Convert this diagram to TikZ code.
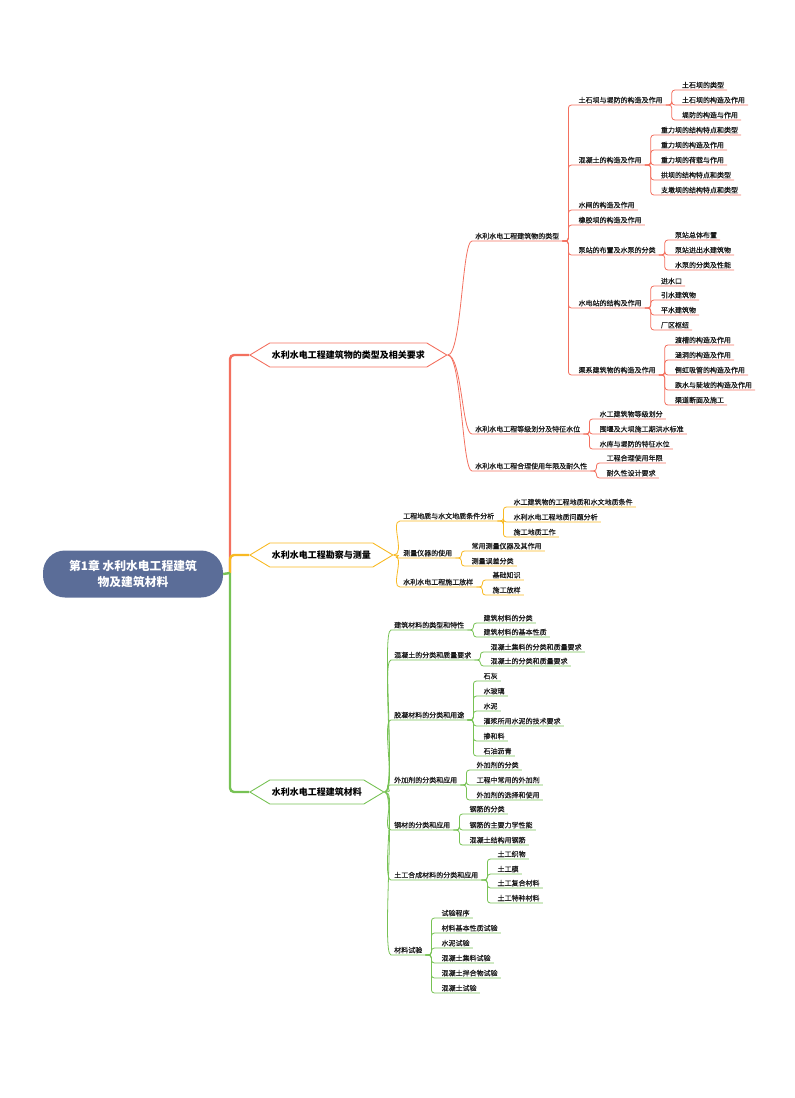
\documentclass[tikz,border=0pt]{standalone}
\usepackage{fontspec}
\setmainfont{Noto Sans CJK SC}
\newfontfamily\lfam{Noto Sans CJK SC}[FakeBold=0.35]
\usetikzlibrary{shapes.symbols}
\definecolor{cr}{HTML}{F3705F}
\definecolor{cy}{HTML}{F8B923}
\definecolor{cg}{HTML}{77C254}
\definecolor{croot}{HTML}{5B6D98}
\newcommand{\lf}{\lfam\fontsize{7}{8}\selectfont}

\begin{document}
\begin{tikzpicture}[x=1pt,y=-1pt,
  rootbox/.style={fill=croot, rounded corners=22pt, minimum width=180pt, minimum height=47pt,
    text=white, font=\fontsize{11.8}{16}\selectfont\bfseries, align=center},
  hexa/.style={signal, signal to=west and east, signal pointer angle=62, draw, line width=0.9pt,
    anchor=west, inner xsep=2pt, minimum height=24pt, font=\fontsize{9}{10}\selectfont\bfseries},
  sub/.style={anchor=south west, inner xsep=3pt, inner ysep=1.5pt, font=\lf, text=black!90},
  leaf/.style={sub, xshift=13pt},
  spine/.style={line width=2.4pt, rounded corners=4pt},
  twig/.style={line width=0.8pt},
  brk/.style={line width=0.8pt, rounded corners=3pt}]
  \useasboundingbox (0,0) rectangle (795,1098);

  \node[rootbox] (root) at (133,574) {第1章 水利水电工程建筑\\物及建筑材料};
  \coordinate (hub) at (230,573);

  \node[hexa, draw=cr] (m1) at (249,355) {水利水电工程建筑物的类型及相关要求};
  \node[hexa, draw=cy] (m2) at (249,555) {水利水电工程勘察与测量};
  \node[hexa, draw=cg] (m3) at (249,792) {水利水电工程建筑材料};

  \draw[spine, cr] (hub) |- (m1.west);
  \draw[spine, cy] (hub) |- (m2.west);
  \draw[spine, cg] (hub) |- (m3.west);
  \draw[spine, cg] (root.east) -- (hub);

  % branch 1
  \node[sub] (t1) at (472,241) {水利水电工程建筑物的类型};
  \node[sub] (t2) at (472,434) {水利水电工程等级划分及特征水位};
  \node[sub] (t3) at (472,471) {水利水电工程合理使用年限及耐久性};
  \foreach \t in {t1,t2,t3}
    \draw[twig, cr] (m1.east) .. controls +(14,0) and +(-10,0) .. (\t.south west) -- (\t.south east);

  \node[leaf] (a1) at (t1.south east |- 0,105) {土石坝与堤防的构造及作用};
  \node[leaf] (a2) at (t1.south east |- 0,165) {混凝土的构造及作用};
  \node[leaf] (a3) at (t1.south east |- 0,210) {水闸的构造及作用};
  \node[leaf] (a4) at (t1.south east |- 0,225) {橡胶坝的构造及作用};
  \node[leaf] (a5) at (t1.south east |- 0,255) {泵站的布置及水泵的分类};
  \node[leaf] (a6) at (t1.south east |- 0,308) {水电站的结构及作用};
  \node[leaf] (a7) at (t1.south east |- 0,375) {渠系建筑物的构造及作用};
  \foreach \c in {a1,a2,a3,a4,a5,a6,a7}
    \draw[brk, cr] (t1.south east) -- ++(6,0) |- (\c.south east);

  \node[leaf] (a11) at (a1.south east |- 0,90)  {土石坝的类型};
  \node[leaf] (a12) at (a1.south east |- 0,105) {土石坝的构造及作用};
  \node[leaf] (a13) at (a1.south east |- 0,120) {堤防的构造与作用};
  \foreach \c in {a11,a12,a13}
    \draw[brk, cr] (a1.south east) -- ++(6,0) |- (\c.south east);

  \node[leaf] (a21) at (a2.south east |- 0,135) {重力坝的结构特点和类型};
  \node[leaf] (a22) at (a2.south east |- 0,150) {重力坝的构造及作用};
  \node[leaf] (a23) at (a2.south east |- 0,165) {重力坝的荷载与作用};
  \node[leaf] (a24) at (a2.south east |- 0,180) {拱坝的结构特点和类型};
  \node[leaf] (a25) at (a2.south east |- 0,195) {支墩坝的结构特点和类型};
  \foreach \c in {a21,a22,a23,a24,a25}
    \draw[brk, cr] (a2.south east) -- ++(6,0) |- (\c.south east);

  \node[leaf] (a51) at (a5.south east |- 0,240) {泵站总体布置};
  \node[leaf] (a52) at (a5.south east |- 0,255) {泵站进出水建筑物};
  \node[leaf] (a53) at (a5.south east |- 0,270) {水泵的分类及性能};
  \foreach \c in {a51,a52,a53}
    \draw[brk, cr] (a5.south east) -- ++(6,0) |- (\c.south east);

  \node[leaf] (a61) at (a6.south east |- 0,286) {进水口};
  \node[leaf] (a62) at (a6.south east |- 0,300) {引水建筑物};
  \node[leaf] (a63) at (a6.south east |- 0,315) {平水建筑物};
  \node[leaf] (a64) at (a6.south east |- 0,330) {厂区枢纽};
  \foreach \c in {a61,a62,a63,a64}
    \draw[brk, cr] (a6.south east) -- ++(6,0) |- (\c.south east);

  \node[leaf] (a71) at (a7.south east |- 0,345) {渡槽的构造及作用};
  \node[leaf] (a72) at (a7.south east |- 0,360) {涵洞的构造及作用};
  \node[leaf] (a73) at (a7.south east |- 0,375) {倒虹吸管的构造及作用};
  \node[leaf] (a74) at (a7.south east |- 0,390) {跌水与陡坡的构造及作用};
  \node[leaf] (a75) at (a7.south east |- 0,405) {渠道断面及施工};
  \foreach \c in {a71,a72,a73,a74,a75}
    \draw[brk, cr] (a7.south east) -- ++(6,0) |- (\c.south east);

  \node[leaf] (b1) at (t2.south east |- 0,419) {水工建筑物等级划分};
  \node[leaf] (b2) at (t2.south east |- 0,434) {围堰及大坝施工期洪水标准};
  \node[leaf] (b3) at (t2.south east |- 0,449) {水库与堤防的特征水位};
  \foreach \c in {b1,b2,b3}
    \draw[brk, cr] (t2.south east) -- ++(6,0) |- (\c.south east);

  \node[leaf] (c1) at (t3.south east |- 0,463) {工程合理使用年限};
  \node[leaf] (c2) at (t3.south east |- 0,478) {耐久性设计要求};
  \foreach \c in {c1,c2}
    \draw[brk, cr] (t3.south east) -- ++(6,0) |- (\c.south east);

  % branch 2
  \node[sub] (u1) at (400,521) {工程地质与水文地质条件分析};
  \node[sub] (u2) at (400,558) {测量仪器的使用};
  \node[sub] (u3) at (400,587) {水利水电工程施工放样};
  \foreach \t in {u1,u2,u3}
    \draw[twig, cy] (m2.east) .. controls +(12,0) and +(-10,0) .. (\t.south west) -- (\t.south east);

  \node[leaf] (u11) at (u1.south east |- 0,507) {水工建筑物的工程地质和水文地质条件};
  \node[leaf] (u12) at (u1.south east |- 0,522) {水利水电工程地质问题分析};
  \node[leaf] (u13) at (u1.south east |- 0,537) {施工地质工作};
  \foreach \c in {u11,u12,u13}
    \draw[brk, cy] (u1.south east) -- ++(6,0) |- (\c.south east);

  \node[leaf] (u21) at (u2.south east |- 0,551) {常用测量仪器及其作用};
  \node[leaf] (u22) at (u2.south east |- 0,566) {测量误差分类};
  \foreach \c in {u21,u22}
    \draw[brk, cy] (u2.south east) -- ++(6,0) |- (\c.south east);

  \node[leaf] (u31) at (u3.south east |- 0,580) {基础知识};
  \node[leaf] (u32) at (u3.south east |- 0,595) {施工放样};
  \foreach \c in {u31,u32}
    \draw[brk, cy] (u3.south east) -- ++(6,0) |- (\c.south east);

  % branch 3
  \node[sub] (v1) at (391,630) {建筑材料的类型和特性};
  \node[sub] (v2) at (391,660) {混凝土的分类和质量要求};
  \node[sub] (v3) at (391,720) {胶凝材料的分类和用途};
  \node[sub] (v4) at (391,785) {外加剂的分类和应用};
  \node[sub] (v5) at (391,830) {钢材的分类和应用};
  \node[sub] (v6) at (391,880) {土工合成材料的分类和应用};
  \node[sub] (v7) at (391,955) {材料试验};
  \foreach \t in {v1,v2,v3,v4,v5,v6,v7}
    \draw[twig, cg] (m3.east) .. controls +(12,0) and +(-10,0) .. (\t.south west) -- (\t.south east);

  \node[leaf] (v11) at (v1.south east |- 0,623) {建筑材料的分类};
  \node[leaf] (v12) at (v1.south east |- 0,637) {建筑材料的基本性质};
  \foreach \c in {v11,v12}
    \draw[brk, cg] (v1.south east) -- ++(6,0) |- (\c.south east);

  \node[leaf] (v21) at (v2.south east |- 0,652) {混凝土集料的分类和质量要求};
  \node[leaf] (v22) at (v2.south east |- 0,666) {混凝土的分类和质量要求};
  \foreach \c in {v21,v22}
    \draw[brk, cg] (v2.south east) -- ++(6,0) |- (\c.south east);

  \node[leaf] (v31) at (v3.south east |- 0,681) {石灰};
  \node[leaf] (v32) at (v3.south east |- 0,696) {水玻璃};
  \node[leaf] (v33) at (v3.south east |- 0,711) {水泥};
  \node[leaf] (v34) at (v3.south east |- 0,726) {灌浆所用水泥的技术要求};
  \node[leaf] (v35) at (v3.south east |- 0,741) {掺和料};
  \node[leaf] (v36) at (v3.south east |- 0,756) {石油沥青};
  \foreach \c in {v31,v32,v33,v34,v35,v36}
    \draw[brk, cg] (v3.south east) -- ++(6,0) |- (\c.south east);

  \node[leaf] (v41) at (v4.south east |- 0,770) {外加剂的分类};
  \node[leaf] (v42) at (v4.south east |- 0,785) {工程中常用的外加剂};
  \node[leaf] (v43) at (v4.south east |- 0,800) {外加剂的选择和使用};
  \foreach \c in {v41,v42,v43}
    \draw[brk, cg] (v4.south east) -- ++(6,0) |- (\c.south east);

  \node[leaf] (v51) at (v5.south east |- 0,814) {钢筋的分类};
  \node[leaf] (v52) at (v5.south east |- 0,830) {钢筋的主要力学性能};
  \node[leaf] (v53) at (v5.south east |- 0,845) {混凝土结构用钢筋};
  \foreach \c in {v51,v52,v53}
    \draw[brk, cg] (v5.south east) -- ++(6,0) |- (\c.south east);

  \node[leaf] (v61) at (v6.south east |- 0,859) {土工织物};
  \node[leaf] (v62) at (v6.south east |- 0,874) {土工膜};
  \node[leaf] (v63) at (v6.south east |- 0,888) {土工复合材料};
  \node[leaf] (v64) at (v6.south east |- 0,903) {土工特种材料};
  \foreach \c in {v61,v62,v63,v64}
    \draw[brk, cg] (v6.south east) -- ++(6,0) |- (\c.south east);

  \node[leaf] (v71) at (v7.south east |- 0,918) {试验程序};
  \node[leaf] (v72) at (v7.south east |- 0,933) {材料基本性质试验};
  \node[leaf] (v73) at (v7.south east |- 0,948) {水泥试验};
  \node[leaf] (v74) at (v7.south east |- 0,963) {混凝土集料试验};
  \node[leaf] (v75) at (v7.south east |- 0,978) {混凝土拌合物试验};
  \node[leaf] (v76) at (v7.south east |- 0,993) {混凝土试验};
  \foreach \c in {v71,v72,v73,v74,v75,v76}
    \draw[brk, cg] (v7.south east) -- ++(6,0) |- (\c.south east);
\end{tikzpicture}
\end{document}
